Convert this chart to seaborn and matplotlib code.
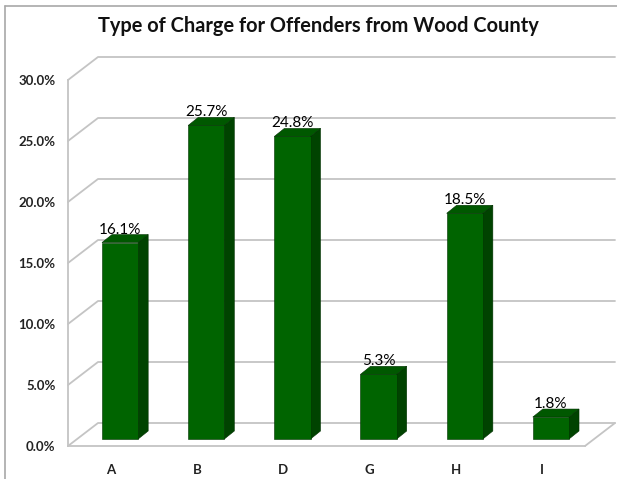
import numpy as np
import matplotlib
matplotlib.use("Agg")
import matplotlib.pyplot as plt
from matplotlib.lines import Line2D
from matplotlib.patches import Polygon
from matplotlib.transforms import IdentityTransform, offset_copy
import seaborn as sns

# Share of offenders by charge type
categories = ["A", "B", "D", "G", "H", "I"]
shares = [16.1, 25.7, 24.8, 5.3, 18.5, 1.8]
y_ticks = [0, 5, 10, 15, 20, 25, 30]
title = "Type of Charge for Offenders from Wood County"

sns.set_style("white")
plt.rcParams["font.family"] = ["Lato", "DejaVu Sans"]

FRONT = "#006400"
TOP = "#005800"
SIDE = "#004300"
EDGE = "#003000"
GRID = "#c4c4c4"

W, H = 617, 479
fig = plt.figure(figsize=(W / 100, H / 100), dpi=100)
ax = fig.add_axes([68 / W, 33 / H, 517 / W, 366 / H])

sns.barplot(x=categories, y=shares, color=FRONT, saturation=1, width=0.42,
            edgecolor=EDGE, linewidth=0.4, ax=ax, zorder=3)
ax.set_xlim(-0.5, 5.5)
ax.set_ylim(0, 30)

# pseudo-3D geometry in pixels
WALL_DX, WALL_DY = 30, 23      # depth of the floor / back wall
BAR_DX, BAR_DY = 9, 7          # bars stand a little behind the front edge
DEP_DX, DEP_DY = 10, 8         # depth of each bar

ident = IdentityTransform()

# back wall gridlines with the diagonal on the left side wall
for t in y_ticks:
    fx, fy = ax.transData.transform((-0.5, t))
    rx, _ = ax.transData.transform((5.5, t))
    ax.add_line(Line2D([fx, fx + WALL_DX, rx + WALL_DX], [fy, fy + WALL_DY, fy + WALL_DY],
                       transform=ident, color=GRID, lw=1.3, zorder=1, clip_on=False))
# right edge of the floor
fx, fy = ax.transData.transform((5.5, 0))
ax.add_line(Line2D([fx, fx + WALL_DX], [fy, fy + WALL_DY], transform=ident,
                   color=GRID, lw=1.3, zorder=1, clip_on=False))

# bars: front faces from seaborn, shifted into the floor; then top and side faces
bar_tr = offset_copy(ax.transData, fig=fig, x=BAR_DX, y=BAR_DY, units="dots")
for patch, v in zip(ax.patches, shares):
    patch.set_transform(bar_tr)
    patch.set_clip_on(False)
    x0, x1 = patch.get_x(), patch.get_x() + patch.get_width()
    h = patch.get_height()
    (ax0, ay0), (ax1, ay1) = ax.transData.transform([(x0, 0), (x1, h)])
    ax0 += BAR_DX; ax1 += BAR_DX; ay0 += BAR_DY; ay1 += BAR_DY
    top = [(ax0, ay1), (ax1, ay1), (ax1 + DEP_DX, ay1 + DEP_DY), (ax0 + DEP_DX, ay1 + DEP_DY)]
    side = [(ax1, ay0), (ax1 + DEP_DX, ay0 + DEP_DY), (ax1 + DEP_DX, ay1 + DEP_DY), (ax1, ay1)]
    ax.add_patch(Polygon(side, closed=True, transform=ident, facecolor=SIDE,
                         edgecolor=EDGE, lw=0.4, zorder=2.5, clip_on=False))
    ax.add_patch(Polygon(top, closed=True, transform=ident, facecolor=TOP,
                         edgecolor=EDGE, lw=0.4, zorder=2.5, clip_on=False))
    ax.text((x0 + x1) / 2, h, f"{v:.1f}%",
            transform=offset_copy(ax.transData, fig=fig, x=BAR_DX, y=BAR_DY + DEP_DY - 2, units="dots"),
            ha="center", va="bottom", fontsize=11, color="#000000", zorder=5)

# axes styling
for side_name in ["top", "right"]:
    ax.spines[side_name].set_visible(False)
for side_name in ["left", "bottom"]:
    ax.spines[side_name].set_color(GRID)
    ax.spines[side_name].set_linewidth(1.3)
    ax.spines[side_name].set_zorder(1)

ax.set_yticks(y_ticks)
ax.set_yticklabels([f"{t:.1f}%" for t in y_ticks])
ax.set_xticks(range(len(categories)))
ax.set_xticklabels(categories)
ax.set_xticks(np.arange(-0.5, len(categories), 1), minor=True)
ax.tick_params(axis="y", length=5, width=1.2, color=GRID, pad=4, labelsize=9.5)
ax.tick_params(axis="x", which="major", length=0, pad=13, labelsize=9.5)
ax.tick_params(axis="x", which="minor", length=5, width=1.2, color=GRID)
for lab in ax.get_yticklabels() + ax.get_xticklabels():
    lab.set_fontweight("bold")
    lab.set_color("#222222")
ax.set_xlabel("")
ax.set_ylabel("")
ax.grid(False)
ax.patch.set_alpha(0)

fig.text(318 / W, 1 - 26 / H, title, ha="center", va="center",
         fontsize=14.4, fontweight="bold", color="#111111")

# chart frame
fig.add_artist(Line2D([5 / W, 1], [1 - 6 / H, 1 - 6 / H], transform=fig.transFigure,
                      color="#a8a8a8", lw=1.2))
fig.add_artist(Line2D([5 / W, 5 / W], [0, 1 - 6 / H], transform=fig.transFigure,
                      color="#a8a8a8", lw=1.2))

fig.savefig("out.png", dpi=100)
